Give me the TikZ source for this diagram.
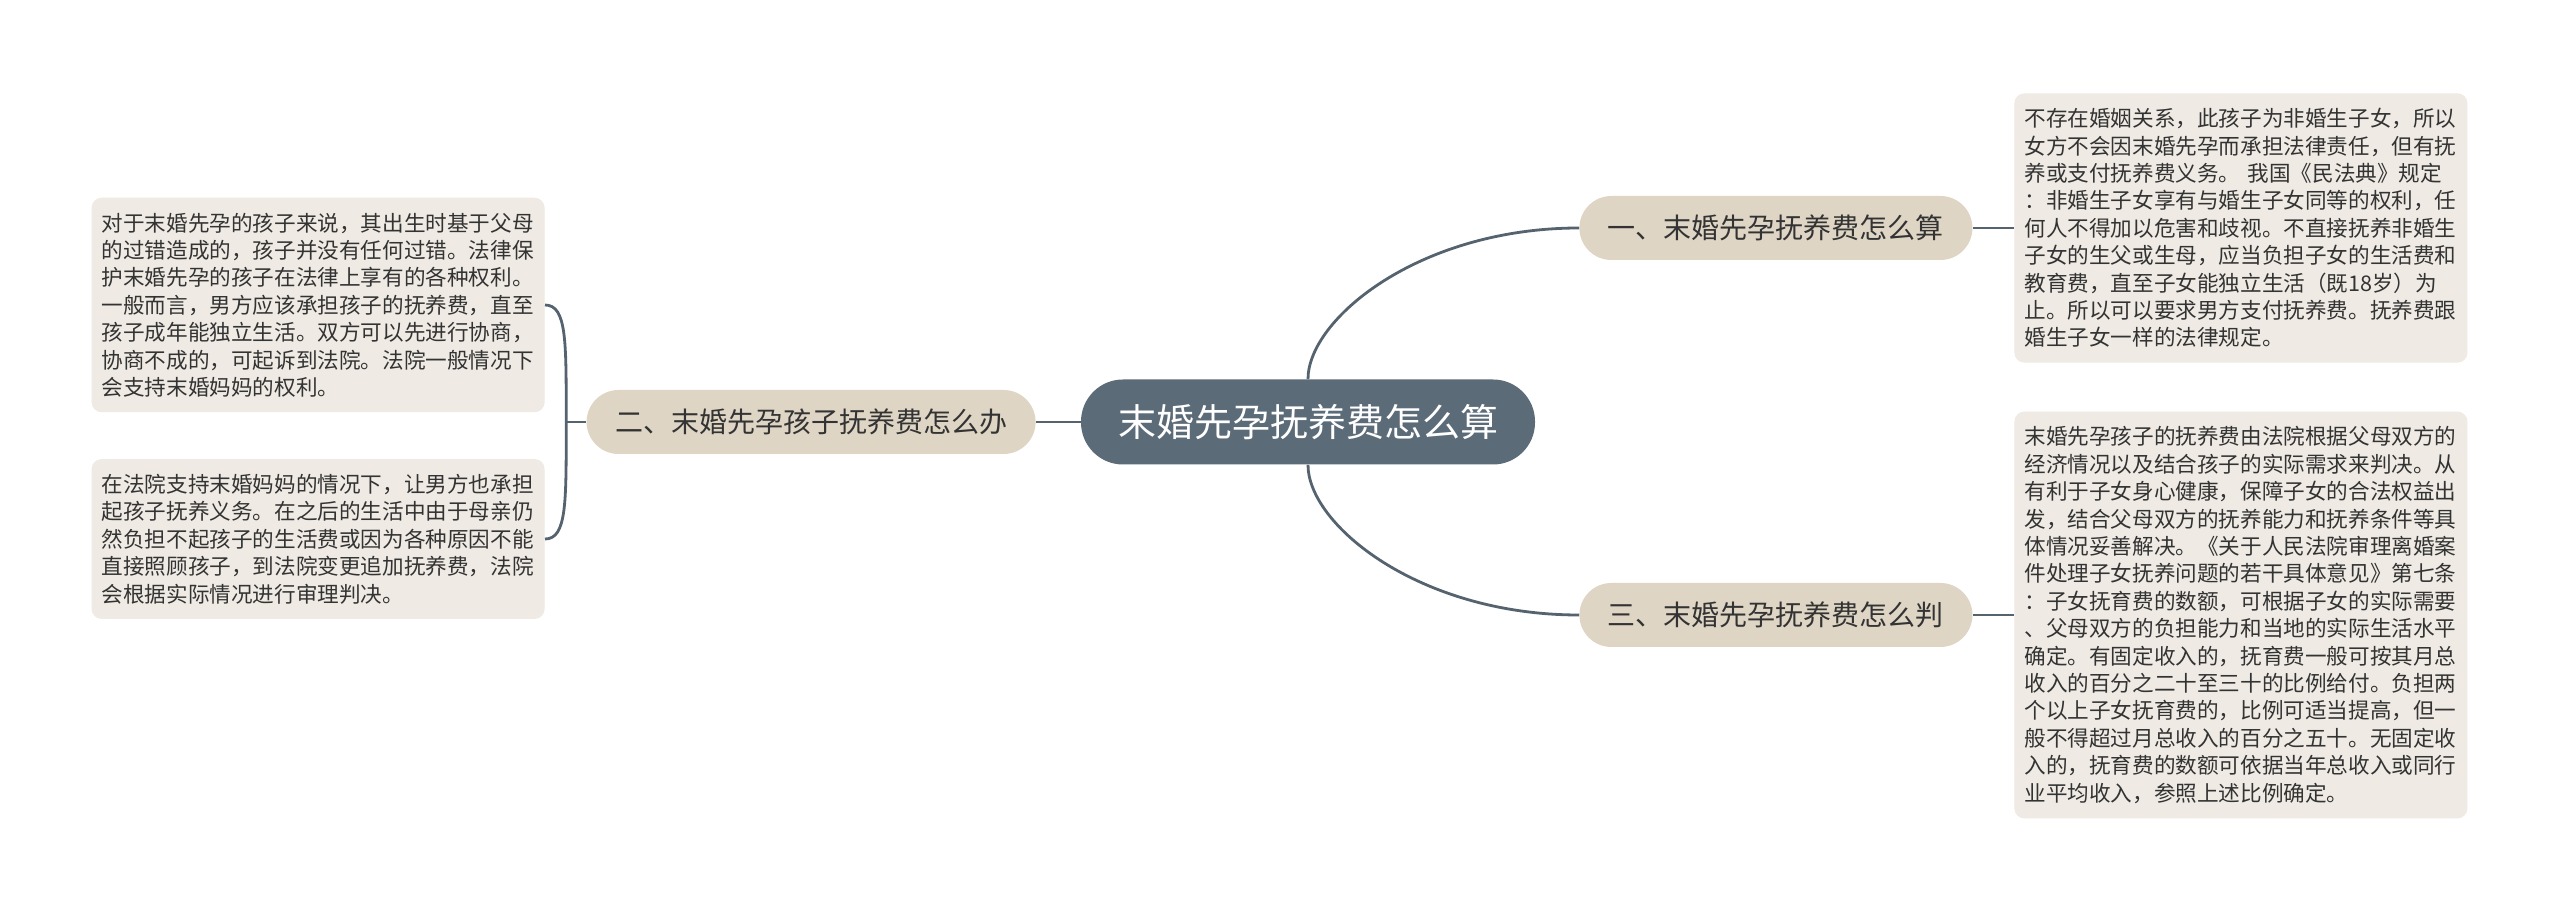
\documentclass[tikz,border=0pt]{standalone}
\usepackage{fontspec}
\usepackage{tikz}
\usetikzlibrary{calc}
\newfontfamily\cjk{Noto Sans CJK SC}
\definecolor{zhuti}{HTML}{5B6B78}
\definecolor{fenzhi}{HTML}{DED5C5}
\definecolor{beizhu}{HTML}{EFEBE4}
\definecolor{xian}{HTML}{55636F}
\definecolor{zi}{HTML}{333333}
\tikzset{
  topic/.style={fill=zhuti,rounded corners=21pt,text=white,
    font=\cjk\fontsize{19pt}{22pt}\selectfont,minimum width=227pt,minimum height=42.5pt,inner sep=0pt},
  branch/.style={fill=fenzhi,rounded corners=16pt,text=zi,
    font=\cjk\fontsize{14pt}{16pt}\selectfont,minimum width=196.5pt,minimum height=32pt,
    inner xsep=14.25pt,inner ysep=0pt},
  note/.style={fill=beizhu,rounded corners=5pt,text=zi,align=left,text width=216.5pt,
    font=\cjk\fontsize{10.8pt}{13.7pt}\selectfont,inner xsep=5pt,inner ysep=7.5pt},
  link/.style={draw=xian,line width=1.4pt}
}
\begin{document}
\begin{tikzpicture}[x=0.5pt,y=-0.5pt]
\useasboundingbox[fill=white] (0,0) rectangle (2560,913);

\node[topic] (topic) at (1308,422) {末婚先孕抚养费怎么算};

\node[branch,anchor=west] (b1) at (1579,228) {一、末婚先孕抚养费怎么算};
\node[branch,anchor=east] (b2) at (1036,422) {二、末婚先孕孩子抚养费怎么办};
\node[branch,anchor=west] (b3) at (1579,615) {三、末婚先孕抚养费怎么判};

\node[note,anchor=west] (note1) at (2014,228) {不存在婚姻关系，此孩子为非婚生子女，所以\\
女方不会因末婚先孕而承担法律责任，但有抚\\
养或支付抚养费义务。 我国《民法典》规定\\
：非婚生子女享有与婚生子女同等的权利，任\\
何人不得加以危害和歧视。不直接抚养非婚生\\
子女的生父或生母，应当负担子女的生活费和\\
教育费，直至子女能独立生活（既18岁）为\\
止。所以可以要求男方支付抚养费。抚养费跟\\
婚生子女一样的法律规定。};

\node[note,anchor=west] (note3) at (2014,615) {末婚先孕孩子的抚养费由法院根据父母双方的\\
经济情况以及结合孩子的实际需求来判决。从\\
有利于子女身心健康，保障子女的合法权益出\\
发，结合父母双方的抚养能力和抚养条件等具\\
体情况妥善解决。《关于人民法院审理离婚案\\
件处理子女抚养问题的若干具体意见》第七条\\
：子女抚育费的数额，可根据子女的实际需要\\
、父母双方的负担能力和当地的实际生活水平\\
确定。有固定收入的，抚育费一般可按其月总\\
收入的百分之二十至三十的比例给付。负担两\\
个以上子女抚育费的，比例可适当提高，但一\\
般不得超过月总收入的百分之五十。无固定收\\
入的，抚育费的数额可依据当年总收入或同行\\
业平均收入，参照上述比例确定。};

\node[note,anchor=east] (noteA) at (545,305) {对于末婚先孕的孩子来说，其出生时基于父母\\
的过错造成的，孩子并没有任何过错。法律保\\
护末婚先孕的孩子在法律上享有的各种权利。\\
一般而言，男方应该承担孩子的抚养费，直至\\
孩子成年能独立生活。双方可以先进行协商，\\
协商不成的，可起诉到法院。法院一般情况下\\
会支持末婚妈妈的权利。};

\node[note,anchor=east] (noteB) at (545,539) {在法院支持末婚妈妈的情况下，让男方也承担\\
起孩子抚养义务。在之后的生活中由于母亲仍\\
然负担不起孩子的生活费或因为各种原因不能\\
直接照顾孩子，到法院变更追加抚养费，法院\\
会根据实际情况进行审理判决。};

\coordinate (fork) at ($(b2.west)+(-20,0)$);

\draw[link] (topic.north) .. controls ($(topic.north)+(0,-60)$) and ($(b1.west)+(-160,0)$) .. (b1.west);
\draw[link] (topic.south) .. controls ($(topic.south)+(0,60)$) and ($(b3.west)+(-160,0)$) .. (b3.west);
\draw[link] (topic.west) -- (b2.east);
\draw[link] (b1.east) -- (note1.west);
\draw[link] (b3.east) -- (note3.west);
\draw[link] (b2.west) -- (fork);
\draw[link] (fork) .. controls ($(fork)+(0,-80)$) and ($(noteA.east)+(22,0)$) .. (noteA.east);
\draw[link] (fork) .. controls ($(fork)+(0,80)$) and ($(noteB.east)+(22,0)$) .. (noteB.east);
\end{tikzpicture}
\end{document}
